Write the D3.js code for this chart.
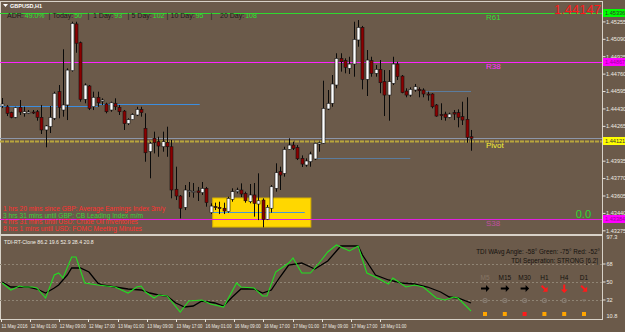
<!DOCTYPE html>
<html>
<head>
<meta charset="utf-8">
<script src="https://cdn.jsdelivr.net/npm/d3@7"></script>
<style>
body { margin: 0; background: #6b5a4a; }
svg { display: block; font-family: "Liberation Sans", Arial, sans-serif; }
</style>
</head>
<body>
<svg id="chart" width="625" height="332"></svg>
<script>
// GBPUSD H1 candles (one value per bar)
var opens  = [1.44453,1.44446,1.44390,1.44346,1.44441,1.44384,1.44384,1.44396,1.44399,1.44346,1.44226,1.44257,1.44337,1.44589,1.44415,1.44463,1.44788,1.45231,1.45053,1.44517,1.44643,1.44446,1.44536,1.44498,1.44472,1.44415,1.44479,1.44441,1.44405,1.44286,1.44324,1.44368,1.44422,1.44242,1.44020,1.44147,1.44115,1.44067,1.44109,1.44067,1.43664,1.43600,1.43493,1.43641,1.43645,1.43648,1.43632,1.43673,1.43442,1.43499,1.43493,1.43484,1.43452,1.43569,1.43641,1.43657,1.43625,1.43546,1.43610,1.43524,1.43562,1.43379,1.43484,1.43673,1.43831,1.43815,1.44042,1.44083,1.44061,1.43957,1.43894,1.43925,1.43951,1.44093,1.44100,1.44425,1.44479,1.44652,1.44905,1.44883,1.44810,1.44851,1.45079,1.45199,1.44706,1.44883,1.44763,1.44801,1.44684,1.44557,1.44668,1.44851,1.44737,1.44595,1.44557,1.44605,1.44611,1.44605,1.44567,1.44567,1.44463,1.44371,1.44377,1.44346,1.44390,1.44390,1.44352,1.44327,1.44162];
var highs  = [1.44529,1.44463,1.44399,1.44446,1.44510,1.44446,1.44415,1.44415,1.44415,1.44463,1.44273,1.44453,1.44589,1.44652,1.44991,1.44810,1.45252,1.45252,1.45064,1.44668,1.44652,1.44589,1.44589,1.44526,1.44484,1.44494,1.44526,1.44463,1.44415,1.44337,1.44384,1.44446,1.44446,1.44384,1.44115,1.44210,1.44162,1.44210,1.44257,1.44131,1.43878,1.43610,1.43704,1.43733,1.43723,1.43686,1.43733,1.43686,1.43531,1.43537,1.43546,1.43537,1.43593,1.43673,1.43679,1.43720,1.43641,1.43714,1.43723,1.43815,1.43578,1.43515,1.43704,1.43910,1.43878,1.44067,1.44147,1.44115,1.44083,1.43985,1.43957,1.44020,1.44105,1.44115,1.44693,1.44605,1.44747,1.44953,1.44953,1.44905,1.44920,1.45252,1.45268,1.45212,1.44984,1.44920,1.44842,1.44889,1.44794,1.44794,1.44920,1.44873,1.44747,1.44621,1.44630,1.44662,1.44630,1.44621,1.44589,1.44574,1.44472,1.44479,1.44399,1.44390,1.44415,1.44422,1.44494,1.44536,1.44226];
var lows   = [1.44434,1.44358,1.44337,1.44337,1.44368,1.44352,1.44377,1.44377,1.44314,1.44188,1.44062,1.44197,1.44320,1.44337,1.44352,1.44320,1.44779,1.44958,1.44494,1.44479,1.44415,1.44415,1.44446,1.44463,1.44384,1.44399,1.44415,1.44368,1.44226,1.44273,1.44320,1.44358,1.44352,1.43925,1.43768,1.44004,1.43972,1.44020,1.43972,1.43578,1.43562,1.43388,1.43467,1.43590,1.43584,1.43553,1.43610,1.43499,1.43429,1.43467,1.43429,1.43429,1.43442,1.43546,1.43625,1.43590,1.43537,1.43531,1.43404,1.43372,1.43303,1.43372,1.43442,1.43641,1.43657,1.43783,1.44036,1.44036,1.43941,1.43875,1.43878,1.43878,1.43941,1.44020,1.44093,1.44415,1.44446,1.44621,1.44779,1.44763,1.44757,1.44731,1.45015,1.44611,1.44548,1.44731,1.44731,1.44574,1.44358,1.44314,1.44652,1.44700,1.44574,1.44536,1.44541,1.44589,1.44536,1.44536,1.44504,1.44431,1.44352,1.44320,1.44314,1.44337,1.44320,1.44251,1.44273,1.44105,1.44029];
var closes = [1.44472,1.44384,1.44346,1.44437,1.44396,1.44399,1.44396,1.44391,1.44346,1.44226,1.44264,1.44346,1.44574,1.44441,1.44463,1.44794,1.45237,1.45048,1.44517,1.44652,1.44431,1.44536,1.44484,1.44510,1.44399,1.44484,1.44446,1.44399,1.44286,1.44324,1.44371,1.44422,1.44390,1.44010,1.44100,1.44105,1.44074,1.44115,1.44067,1.43657,1.43600,1.43484,1.43657,1.43651,1.43645,1.43632,1.43673,1.43537,1.43505,1.43493,1.43480,1.43458,1.43578,1.43641,1.43657,1.43619,1.43555,1.43610,1.43531,1.43555,1.43379,1.43493,1.43688,1.43821,1.43799,1.44042,1.44083,1.44052,1.43953,1.43903,1.43932,1.43998,1.44100,1.44105,1.44431,1.44479,1.44662,1.44905,1.44873,1.44820,1.44851,1.45085,1.45199,1.44706,1.44889,1.44763,1.44801,1.44674,1.44557,1.44684,1.44851,1.44731,1.44580,1.44557,1.44611,1.44636,1.44598,1.44567,1.44557,1.44446,1.44358,1.44362,1.44346,1.44377,1.44377,1.44346,1.44320,1.44156,1.44147];

// price axis
var priceTicks = [1.45255,1.45090,1.44925,1.44760,1.44595,1.44430,1.44265,1.43935,1.43770,1.43605,1.43440,1.43275];
// levels: price, label, colour
var levelPrices = [1.45336, 1.44867, 1.44121, 1.43384];
var levelNames  = ["R61", "R38", "Pivot", "S38"];
var levelColors = ["#2fd82f", "#ff22ff", "#b9a53c", "#e020e0"];
var bidPrice = 1.44147;

// support / resistance segments: bar from, bar to, price
var blueFrom  = [-0.5, 22, 72, 97.6, 48.5];
var blueTo    = [22, 45.5, 94, 108, 69.7];
var bluePrice = [1.44453, 1.44472, 1.43960, 1.44595, 1.43448];

// yellow zone
var zoneBars   = [48.5, 71.1];
var zonePrices = [1.43306, 1.43581];

// TDI sub window: vertices (bar index, value)
var greenBars = [0,2,4,5,7,8,10,12,13,14,16,17,18,19,22,24,26,29,31,32,33,35,36,38,41,43,46,48,51,54,55,58,60,61,63,66,67,69,71,73,75,77,80,82,84,86,89,90,93,95,97,100,102,104,105,108];
var greenVals = [49,42,46,45,45,44,34,57,59,54,75,75,62,49,47,46,45,39,45,46,40,34,37,36,20,31,32,28,25,49,45,44,36,36,60,69,74,59,59,69,80,87,81,86,59,55,48,54,45,47,45,34,32,35,34,21];
var blackBars = [0,2,4,6,8,10,12,13,15,16,18,20,22,23,26,29,32,34,36,38,40,42,44,46,49,51,53,55,58,60,62,64,66,69,71,72,75,77,78,82,83,86,89,92,95,98,101,103,105,108];
var blackVals = [50,45,45,45,43,39,44,47,57,64,64,60,49,47,45,43,42,39,37,36,29,25,26,31,29,26,35,43,43,39,42,55,67,69,65,63,71,81,86,86,77,57,52,49,48,45,40,35,34,29];
var tdiLevels = [68, 50, 32];
var tdiTickLabels = ["97.3", "68", "50", "32", "10.8"];
var tdiTickVals = [94.7, 68, 50, 32, 16];

// time axis
var timeLabels = ["11 May 2016","12 May 01:00","12 May 09:00","12 May 17:00","13 May 01:00","13 May 09:00","13 May 17:00","16 May 01:00","16 May 09:00","16 May 17:00","17 May 01:00","17 May 09:00","17 May 17:00","18 May 01:00"];

// dashboard
var frames = ["M5","M15","M30","H1","H4","D1"];
var frameArrow = [0, 0, 0, 45, 90, 45];
var frameArrowColor = ["#000","#000","#000","#ff1a1a","#ff1a1a","#ff1a1a"];
var frameBox = ["#ffa500","#ffa500","#ff1a1a","#ffa500","#ffa500","#ffa500"];

var newsLines = [
  "1 hrs 20 mins since GBP: Average Earnings Index 3m/y",
  "3 hrs 31 mins until GBP: CB Leading Index m/m",
  "4 hrs 31 mins until USD: Crude Oil Inventories",
  "8 hrs 1 mins until USD: FOMC Meeting Minutes"
];
var newsColors = ["#ff3030", "#3ccf3c", "#ff3030", "#ff3030"];

// ADR panel: label, value
var adrLabels = ["ADR:", "Today:", "1 Day:", "5 Day:", "10 Day:", "20 Day:"];
var adrValues = ["49.0%", "50", "93", "102", "95", "108"];
var adrX   = [7, 52.5, 93, 131.5, 170.5, 220];
var adrBar = [48.5, 87.5, 127.5, 166.5, 210.5];

var svg = d3.select("#chart");
var W = 625, H = 332, plotR = 602;
var mainBot = 234, subBot = 319;

var x = d3.scaleLinear().domain([0, opens.length - 1]).range([2.2, 471]);
var y = d3.scaleLinear().domain([1.43240, 1.45458]).range([234, 0]);
var ys = d3.scaleLinear().domain([13, 97.3]).range([319, 234.7]);

svg.append("rect").attr("width", W).attr("height", H).attr("fill", "#6b5a4a");

// window frames
var frameCol = "#d8d2c8";
svg.append("line").attr("x1", 0).attr("x2", plotR).attr("y1", 1.5).attr("y2", 1.5).attr("stroke", frameCol);
svg.append("line").attr("x1", 0.5).attr("x2", 0.5).attr("y1", 1).attr("y2", subBot).attr("stroke", frameCol);
svg.append("line").attr("x1", plotR + 0.5).attr("x2", plotR + 0.5).attr("y1", 1).attr("y2", subBot + 1).attr("stroke", frameCol);
svg.append("rect").attr("x", 0).attr("y", mainBot).attr("width", plotR).attr("height", 2).attr("fill", frameCol);
svg.append("line").attr("x1", 0).attr("x2", plotR).attr("y1", subBot + 0.5).attr("y2", subBot + 0.5).attr("stroke", frameCol);

var main = svg.append("g");

// yellow zone
main.append("rect")
  .attr("x", x(zoneBars[0])).attr("y", y(zonePrices[1]))
  .attr("width", x(zoneBars[1]) - x(zoneBars[0]))
  .attr("height", y(zonePrices[0]) - y(zonePrices[1]))
  .attr("fill", "#ffd700").attr("stroke", "#d9b400").attr("stroke-width", 1);

// level lines
main.selectAll(".lvl").data(levelPrices).enter().append("line")
  .attr("x1", 0).attr("x2", plotR)
  .attr("y1", d => Math.round(y(d)) + 0.5).attr("y2", d => Math.round(y(d)) + 0.5)
  .attr("stroke", (d, i) => levelColors[i])
  .attr("stroke-width", (d, i) => i == 2 ? 2 : 1)
  .attr("stroke-dasharray", (d, i) => i == 2 ? "4,1" : null);

// bid line
main.append("line").attr("x1", 0).attr("x2", plotR)
  .attr("y1", Math.round(y(bidPrice)) + 0.5).attr("y2", Math.round(y(bidPrice)) + 0.5)
  .attr("stroke", "#8d96a8");

// blue segments
main.selectAll(".blue").data(bluePrice).enter().append("line")
  .attr("x1", (d, i) => x(blueFrom[i])).attr("x2", (d, i) => x(blueTo[i]))
  .attr("y1", d => Math.round(y(d)) + 0.5).attr("y2", d => Math.round(y(d)) + 0.5)
  .attr("stroke", (d, i) => i < 2 ? "#3c8ee0" : (i == 4 ? "#4a9ad6" : "#5b7c9e"))
  .attr("stroke-width", 1.2);

// candles
var idx = d3.range(opens.length);
main.selectAll(".wick").data(idx).enter().append("line")
  .attr("x1", i => Math.round(x(i)) + 0.5).attr("x2", i => Math.round(x(i)) + 0.5)
  .attr("y1", i => y(highs[i])).attr("y2", i => y(lows[i]))
  .attr("stroke", "#0a0a0a").attr("stroke-width", 1);

main.selectAll(".body").data(idx).enter().append("rect")
  .attr("x", i => Math.round(x(i)) - 1)
  .attr("y", i => y(Math.max(opens[i], closes[i])))
  .attr("width", 3)
  .attr("height", i => Math.max(1, Math.abs(y(opens[i]) - y(closes[i]))))
  .attr("fill", i => closes[i] >= opens[i] ? "#ffffff" : "#8b0000")
  .attr("stroke", "#111").attr("stroke-width", 0.6);

// level names on chart
main.selectAll(".lvlname").data(levelNames).enter().append("text")
  .attr("x", 486).attr("y", (d, i) => y(levelPrices[i]) + 7)
  .attr("font-size", 8)
  .attr("fill", (d, i) => ["#33dd33", "#ff33ff", "#f5f032", "#c050a0"][i])
  .text(d => d);

main.append("text").attr("x", 591).attr("y", 218).attr("text-anchor", "end")
  .attr("font-size", 11).attr("fill", "#2fd82f").text("0.0");

main.append("text").attr("x", 601).attr("y", 14).attr("text-anchor", "end")
  .attr("font-size", 13).attr("fill", "#ff1a1a").text(d3.format(".5f")(bidPrice));

// header
svg.append("path").attr("d", "M3,4 L8,4 L5.5,7 Z").attr("fill", "#fff");
svg.append("text").attr("x", 10).attr("y", 8).attr("font-size", 5.5).attr("font-weight", "bold")
  .attr("fill", "#fff").text("GBPUSD,H1");

var adrG = svg.append("g").attr("font-size", 7);
adrLabels.forEach(function(lab, i) {
  var t = adrG.append("text").attr("x", adrX[i]).attr("y", 17.5).attr("fill", "#1c1a18").text(lab);
  var w = t.node().getComputedTextLength();
  adrG.append("text").attr("x", adrX[i] + w + 1).attr("y", 17.5).attr("fill", "#2ee02e").text(adrValues[i]);
});
adrG.selectAll(".bar").data(adrBar).enter().append("text")
  .attr("x", d => d).attr("y", 17.5).attr("fill", "#1c1a18").text("|");

// news lines
svg.selectAll(".news").data(newsLines).enter().append("text")
  .attr("x", 3).attr("y", (d, i) => 211.3 + i * 6.5)
  .attr("font-size", 6.6).attr("fill", (d, i) => newsColors[i])
  .text(d => d);

// price axis
var yAxis = d3.axisRight(y).tickValues(priceTicks).tickFormat(d3.format(".5f")).tickSize(3);
var ya = svg.append("g").attr("transform", "translate(" + (plotR + 0.5) + ",0)").call(yAxis);
ya.select(".domain").remove();
ya.selectAll("line").attr("stroke", "#e8e4dc");
ya.selectAll("text").attr("fill", "#eeeae2").attr("font-size", 5.6).attr("x", 3.5)
  .attr("font-family", "'Liberation Sans', Arial, sans-serif");

// coloured price boxes
var boxCols = ["#00ff00", "#ff00ff", "#ffff00", "#ff00ff"];
var boxes = svg.selectAll(".pbox").data(levelPrices).enter().append("g")
  .attr("transform", d => "translate(" + (plotR + 1) + "," + Math.round(y(d)) + ")");
boxes.append("rect").attr("x", 0).attr("y", -4).attr("width", 22).attr("height", 8)
  .attr("fill", (d, i) => boxCols[i]);
boxes.append("text").attr("x", 2).attr("y", 2.2).attr("font-size", 5.6)
  .attr("fill", (d, i) => i == 1 || i == 3 ? "#a000a0" : "#333").text(d => d3.format(".5f")(d));

// TDI sub window
var sub = svg.append("g");
sub.selectAll(".tdil").data(tdiLevels).enter().append("line")
  .attr("x1", 0).attr("x2", plotR)
  .attr("y1", d => Math.round(ys(d)) + 0.5).attr("y2", d => Math.round(ys(d)) + 0.5)
  .attr("stroke", "#8f8474").attr("stroke-dasharray", "2,2");

var tdiLine = d3.line().x(d => x(d[0])).y(d => ys(d[1]));
sub.append("path").datum(blackBars.map((b, i) => [b, blackVals[i]]))
  .attr("d", tdiLine).attr("fill", "none").attr("stroke", "#000").attr("stroke-width", 1.3);
sub.append("path").datum(greenBars.map((b, i) => [b, greenVals[i]]))
  .attr("d", tdiLine).attr("fill", "none").attr("stroke", "#22dd22").attr("stroke-width", 1.1);

sub.append("text").attr("x", 4).attr("y", 244).attr("font-size", 5.2).attr("fill", "#f4f0e8")
  .text("TDI-RT-Clone 86.2 19.6 52.9 28.4 20.8");

var sAxis = svg.append("g").attr("transform", "translate(" + (plotR + 0.5) + ",0)");
sAxis.selectAll("text").data(tdiTickLabels).enter().append("text")
  .attr("x", 4).attr("y", (d, i) => ys(tdiTickVals[i]) + 2)
  .attr("font-size", 5.6).attr("fill", "#eeeae2").text(d => d);
sAxis.selectAll("line").data(tdiTickVals.slice(1, 4)).enter().append("line")
  .attr("x1", 0).attr("x2", 3).attr("y1", d => ys(d)).attr("y2", d => ys(d)).attr("stroke", "#e8e4dc");

// dashboard
var dash = svg.append("g");
dash.append("text").attr("x", 600).attr("y", 254).attr("text-anchor", "end")
  .attr("font-size", 6.3).attr("fill", "#15120f").text("TDI WAvg Angle: -58°  Green: -75°  Red: -52°");
dash.append("text").attr("x", 598).attr("y", 262.5).attr("text-anchor", "end")
  .attr("font-size", 6.3).attr("fill", "#15120f").text("TDI Seperation: STRONG [6.2]");

var fx = d3.scalePoint().domain(frames).range([485, 584]);
dash.selectAll(".fl").data(frames).enter().append("text")
  .attr("x", d => fx(d)).attr("y", 280).attr("text-anchor", "middle")
  .attr("font-size", 6.5).attr("fill", (d, i) => i == 0 ? "#857565" : "#15120f").text(d => d);

var arrowPath = "M-4,-1 L1,-1 L1,-3.5 L4.5,0 L1,3.5 L1,1 L-4,1 Z";
dash.selectAll(".fa").data(frames).enter().append("path")
  .attr("d", arrowPath)
  .attr("transform", (d, i) => "translate(" + fx(d) + ",288.5) rotate(" + frameArrow[i] + ")")
  .attr("fill", (d, i) => frameArrowColor[i]);

dash.selectAll(".fc").data(frames.slice(0, 5)).enter().append("circle")
  .attr("cx", d => fx(d)).attr("cy", 300.5).attr("r", 2)
  .attr("fill", "none").attr("stroke", "#857a70").attr("stroke-width", 1.2);
dash.append("path").attr("d", "M582,299.5 L586,299.5 L584,302 Z").attr("fill", "#857a70");

dash.selectAll(".fb").data(frames).enter().append("rect")
  .attr("x", d => fx(d) - 2).attr("y", 312).attr("width", 4).attr("height", 4)
  .attr("fill", (d, i) => frameBox[i]);

// time axis
var tx = d3.scalePoint().domain(timeLabels).range([1, 380]);
var ta = svg.append("g");
ta.selectAll("line").data(timeLabels).enter().append("line")
  .attr("x1", d => Math.round(tx(d)) + 0.5).attr("x2", d => Math.round(tx(d)) + 0.5)
  .attr("y1", subBot).attr("y2", subBot + 3).attr("stroke", "#e8e4dc");
ta.selectAll("text").data(timeLabels).enter().append("text")
  .attr("x", d => tx(d) + 0.5).attr("y", 328).attr("font-size", 5)
  .attr("textLength", 26).attr("lengthAdjust", "spacingAndGlyphs")
  .attr("fill", "#eeeae2").text(d => d);
</script>
</body>
</html>
